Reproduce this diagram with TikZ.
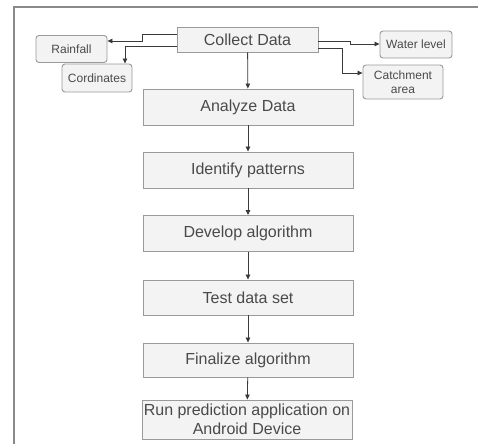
\documentclass[tikz,border=0pt]{standalone}
\usepackage{fontspec}
\setmainfont{Liberation Sans}
\usetikzlibrary{arrows.meta}
\definecolor{boxfill}{HTML}{F3F3F3}
\definecolor{boxline}{HTML}{9A9A9A}
\definecolor{txt}{HTML}{4A4A4A}
\definecolor{wire}{HTML}{3A3A3A}
\definecolor{frame}{HTML}{8A8A8A}
\tikzset{
  stepbox/.style={draw=boxline, fill=boxfill, line width=0.9pt, text=txt,
    font=\fontsize{16}{19}\selectfont, align=center, inner sep=0pt,
    minimum width=210pt, minimum height=36pt},
  sidebox/.style={draw=boxline, fill=boxfill, line width=0.9pt, text=txt,
    rounded corners=3pt, font=\fontsize{12}{14}\selectfont, align=center,
    inner sep=0pt},
  arr/.style={draw=wire, line width=0.8pt,
    -{Triangle[length=5pt,width=4.5pt]}}
}
\begin{document}
\begin{tikzpicture}[x=1pt,y=-1pt]
\useasboundingbox (0,0) rectangle (478,444);
% outer frame
\draw[frame, line width=1.5pt] (14,444) -- (14,7) -- (478,7);

% main flow
\node[stepbox, minimum width=141pt, minimum height=25pt] (collect) at (247.5,39.5) {Collect Data};
\node[stepbox] (analyze)  at (248,107)   {Analyze Data};
\node[stepbox] (identify) at (248,170)   {Identify patterns};
\node[stepbox] (develop)  at (248,233.5) {Develop algorithm};
\node[stepbox, minimum height=35pt] (test) at (248,297.5) {Test data set};
\node[stepbox, minimum height=34pt] (final) at (248,360) {Finalize algorithm};
\node[stepbox, minimum height=39pt] (run) at (247,419.5) {Run prediction application on\\Android Device};

% collected inputs
\node[sidebox, minimum width=71pt, minimum height=27pt] (rain)  at (71.5,49)  {Rainfall};
\node[sidebox, minimum width=70pt, minimum height=28pt] (cord)  at (97,78)    {Cordinates};
\node[sidebox, minimum width=72pt, minimum height=27pt] (water) at (416,44.5) {Water level};
\node[sidebox, minimum width=80pt, minimum height=34pt] (catch) at (403,82)   {Catchment\\area};

% bend points of the input wires
\coordinate (rainA) at (142,34);
\coordinate (rainB) at (142,41);
\coordinate (cordA) at (125,46);
\coordinate (waterA) at (350,41);
\coordinate (waterB) at (350,44);
\coordinate (catchA) at (342,48);
\coordinate (catchB) at (342,73);

% connectors
\draw[arr] (collect) -- (analyze);
\draw[arr] (analyze) -- (identify);
\draw[arr] (identify) -- (develop);
\draw[arr] (develop) -- (test);
\draw[arr] (test) -- (final);
\draw[arr] (final) -- (run);

\draw[arr] ([yshift=5.5pt]collect.west) -- (rainA) -- (rainB) -- (rainB -| rain.east);
\draw[arr] ([yshift=-6.5pt]collect.west) -- (cordA) -- (cordA |- cord.north);
\draw[arr] ([yshift=-1.5pt]collect.east) -- (waterA) -- (waterB) -- (waterB -| water.west);
\draw[arr] ([yshift=-8.5pt]collect.east) -- (catchA) -- (catchB) -- (catchB -| catch.west);
\end{tikzpicture}
\end{document}
